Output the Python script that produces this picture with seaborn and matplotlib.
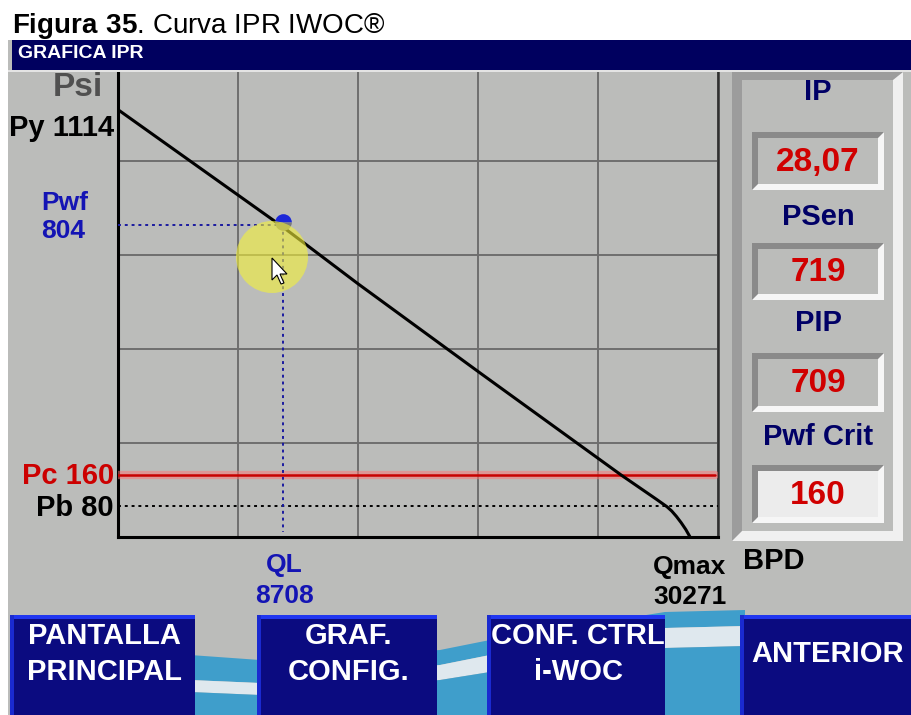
import numpy as np
import matplotlib.pyplot as plt
from matplotlib import font_manager
from matplotlib.patches import Rectangle, Polygon, Ellipse
import seaborn as sns

ipr_q = [0, 8708, 12700, 19160, 26620, 28500, 29050, 29300, 29550, 29800, 30050, 30271]
ipr_p = [1102, 800, 653, 423, 160, 97, 78, 67, 53, 37, 19, 0]

q_op = 8708      # QL
p_op = 804       # Pwf
p_crit = 160     # Pc
p_b = 80         # Pb
p_y = 1114       # Py
q_max = 30271    # Qmax

panel_labels = ['IP', 'PSen', 'PIP', 'Pwf Crit']
panel_values = ['28,07', '719', '709', '160']

buttons = ['PANTALLA\nPRINCIPAL', 'GRAF.\nCONFIG.', 'CONF. CTRL\ni-WOC', 'ANTERIOR']

sns.set_theme(style='whitegrid')
names = {f.name for f in font_manager.fontManager.ttflist}
hmi = 'Liberation Sans Narrow' if 'Liberation Sans Narrow' in names else 'Liberation Sans'
plt.rcParams['font.family'] = ['Liberation Sans', 'DejaVu Sans']
plt.rcParams['mathtext.fontset'] = 'custom'
plt.rcParams['mathtext.rm'] = 'Liberation Sans'
plt.rcParams['mathtext.bf'] = 'Liberation Sans:bold'

W, H = 911, 715
GRAY = '#bbbcba'
NAVY = '#00005f'

fig = plt.figure(figsize=(W / 100, H / 100), dpi=100, facecolor='white')


def fx(x):
    return x / W


def fy(y):
    return 1 - y / H


def rect(x0, y0, x1, y1, z=2, **kw):
    fig.add_artist(Rectangle((fx(x0), fy(y1)), (x1 - x0) / W, (y1 - y0) / H,
                             transform=fig.transFigure, zorder=z, lw=0, **kw))


def poly(pts, z=2, **kw):
    fig.add_artist(Polygon([(fx(a), fy(b)) for a, b in pts], closed=True,
                           transform=fig.transFigure, zorder=z, **kw))


def txt(x, y, s, size, color, ha='center', fam=None, z=6, **kw):
    fig.text(fx(x), fy(y), s, ha=ha, va='center', fontsize=size, color=color,
             fontweight='bold', family=fam or [hmi, 'DejaVu Sans'], zorder=z, **kw)


# fondo de la pantalla
rect(8, 40, W, H, z=-2, color=GRAY)

# grafica
xmax, ymax = 31750, 1212
ax = fig.add_axes([fx(118), fy(537), 600 / W, 470 / H])
ax.set_facecolor(GRAY)
sns.lineplot(x=ipr_q, y=ipr_p, sort=False, color='black', lw=2.2, ax=ax, zorder=5)
ax.plot([0, xmax], [p_b, p_b], color='black', lw=1.4, ls=(0, (1.5, 2)), zorder=3)
ax.plot([0, xmax * 0.995], [p_crit, p_crit], color='#ff7070', lw=6, alpha=0.5, zorder=3)
ax.plot([0, xmax * 0.995], [p_crit, p_crit], color='#c80000', lw=1.8, zorder=4)
ax.plot([0, q_op], [p_op, p_op], color='#1a1aa0', lw=1.4, ls=(0, (1.5, 2)), zorder=3)
ax.plot([q_op, q_op], [p_op, 14], color='#1a1aa0', lw=1.4, ls=(0, (1.5, 2)), zorder=3)
ax.plot([q_op], [p_op + 8], marker='o', ms=12, fillstyle='top', mfc='#1c28d8',
        mfcalt='#7a7a7a', mec='none', zorder=6)
ax.set_xlim(0, xmax)
ax.set_ylim(0, ymax)
ax.set_xticks(np.linspace(0, xmax, 6))
ax.set_yticks(np.linspace(0, ymax, 6))
ax.tick_params(length=0, labelleft=False, labelbottom=False)
ax.grid(True, color='#6e6e6e', lw=1.4)
ax.set_xlabel('')
ax.set_ylabel('')
for s in ['left', 'bottom']:
    ax.spines[s].set_color('black')
    ax.spines[s].set_linewidth(2.2)
ax.spines['right'].set_color('#303030')
ax.spines['right'].set_linewidth(1.8)
ax.spines['top'].set_visible(False)

# resaltado del cursor
fig.add_artist(Ellipse((fx(272), fy(257)), 72 / W, 72 / H, transform=fig.transFigure,
                       fc='#f4f238', alpha=0.6, lw=0, zorder=7))
arrow = [(0, 0), (0, 22), (5, 17), (9, 26), (12, 25), (8, 16), (15, 16)]
poly([(272 + a, 258 + b) for a, b in arrow], z=8, fc='white', ec='black', lw=0.8)

# titulo y cabecera
fig.text(fx(12), fy(33), r'$\mathbf{Figura\ 35}$. Curva IPR IWOC®', fontsize=20,
         color='black', ha='left', va='baseline', family='Liberation Sans')
rect(12, 40, W, 70, z=3, color=NAVY)
rect(8, 70, W, 72, z=3, color='#e4e4e4')
txt(18, 54, 'GRAFICA IPR', 14, 'white', ha='left')

# etiquetas del eje
txt(103, 87, 'Psi', 24, '#505050', ha='right')
txt(114, 128, f'Py {p_y}', 21, 'black', ha='right')
txt(65, 203, 'Pwf', 19, '#1414b4')
txt(63, 231, str(p_op), 19, '#1414b4')
txt(114, 476, f'Pc {p_crit}', 21, '#cc0000', ha='right')
txt(114, 508, f'Pb {p_b}', 21, 'black', ha='right')
txt(284, 565, 'QL', 19, '#1414b4')
txt(284, 596, str(q_op), 19, '#1414b4')
txt(690, 567, 'Qmax', 19, 'black')
txt(690, 597, str(q_max), 19, 'black')
txt(743, 561, 'BPD', 21, 'black', ha='left')

# panel derecho
rect(732, 72, 903, 541, z=3, color='#f0f0f0')
poly([(732, 72), (903, 72), (893, 80), (742, 80), (742, 531), (732, 541)], z=3,
     fc='#9c9c9c', lw=0)
rect(742, 80, 893, 531, z=3, color=GRAY)
label_y = [92, 217, 323, 437]
box_y = [(132, 190), (243, 300), (353, 412), (465, 523)]
for i in range(4):
    txt(818, label_y[i], panel_labels[i], 21, '#000066')
    y0, y1 = box_y[i]
    rect(752, y0, 884, y1, z=4, color='#f6f6f6')
    poly([(752, y0), (884, y0), (878, y0 + 6), (758, y0 + 6), (758, y1 - 6), (752, y1)],
         z=4, fc='#8a8a8a', lw=0)
    rect(758, y0 + 6, 878, y1 - 6, z=4, color='#ececec' if i == 3 else GRAY)
    txt(818, (y0 + y1) / 2 + 1, panel_values[i], 24, '#d00000')

# ondas del fondo de los botones
wave_x = [190, 260, 440, 490, 665, 745]
blue1_top = [655, 660, 650, 640, 612, 610]
blue1_bot = [680, 683, 665, 655, 628, 626]
blue2_top = [692, 695, 680, 672, 648, 646]
poly(list(zip(wave_x, blue1_top)) + list(zip(wave_x, blue1_bot))[::-1], z=1,
     fc='#3f9ecb', lw=0)
poly(list(zip(wave_x, blue1_bot)) + list(zip(wave_x, blue2_top))[::-1], z=1,
     fc='#dfe8ee', lw=0)
poly(list(zip(wave_x, blue2_top)) + [(745, H), (190, H)], z=1, fc='#3f9ecb', lw=0)

# botones
btn_x = [(10, 195), (257, 437), (487, 665), (740, W)]
for (x0, x1), name in zip(btn_x, buttons):
    rect(x0, 615, x1, H, z=3, color='#0b0b80')
    rect(x0, 615, x1, 619, z=3, color='#2036f0')
    rect(x0, 615, x0 + 4, H, z=3, color='#1a2ad0')
    txt((x0 + x1) / 2 + 2, 654, name, 21, 'white', linespacing=1.4)

fig.savefig('out.png', dpi=100, facecolor='white')
